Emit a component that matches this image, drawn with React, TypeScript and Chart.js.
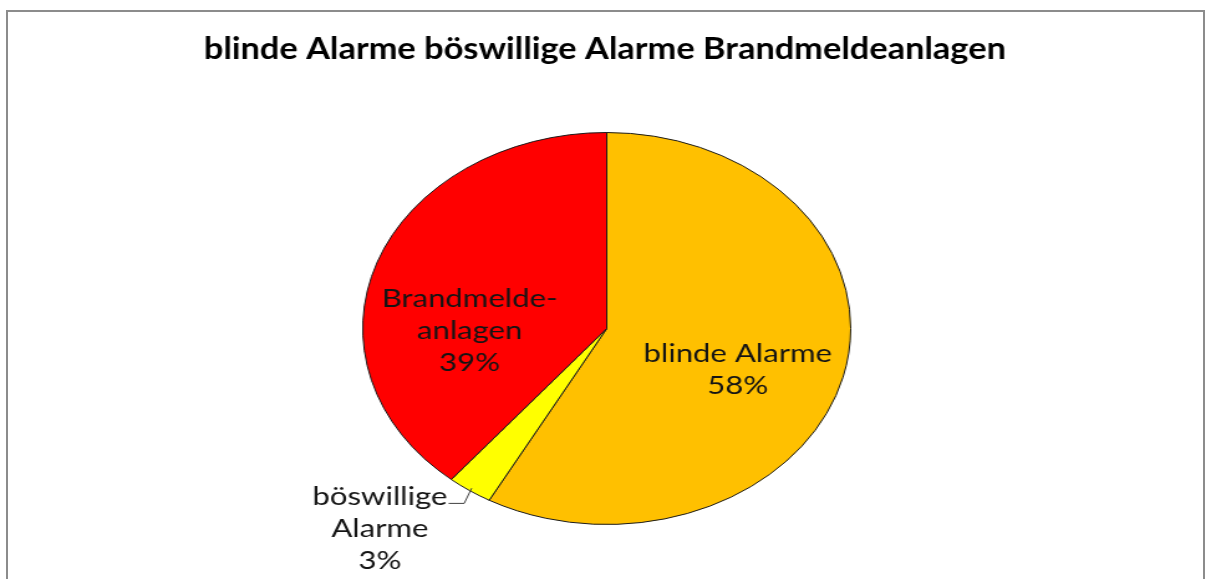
import React, { useEffect, useRef } from "react";
import { Chart, registerables } from "chart.js";

Chart.register(...registerables);

// ---- data ----
const chartTitle = "blinde Alarme böswillige Alarme Brandmeldeanlagen";
const categories = ["blinde Alarme", "böswillige Alarme", "Brandmeldeanlagen"];
const values = [58, 3, 39];
const labelLines = [["blinde Alarme"], ["böswillige", "Alarme"], ["Brandmelde-", "anlagen"]];
const sliceColors = ["#FFC000", "#FFFF00", "#FF0000"];

// ---- layout / style ----
const PAGE_W = 1206;
const PAGE_H = 579;
const STRETCH = 1.2446; // the reference pie is drawn as an ellipse (horizontally stretched)
const CANVAS_W = Math.round(PAGE_W / STRETCH);
const LABEL_FONT = "25px Lato, 'Open Sans', sans-serif";
const TITLE_FONT = "bold 31px Lato, 'Open Sans', sans-serif";
const TITLE_SCALE_X = 0.89;
const LINE_H = 32;
// label anchors relative to pie centre, in units of the radius
const labelPlacement = [
  { fx: 0.537, fy: 0.21, outside: false },
  { fx: -0.93, fy: 1.025, outside: true },
  { fx: -0.562, fy: 0.014, outside: false },
];

const titlePlugin = {
  id: "squeezedTitle",
  afterDraw(chart: any) {
    const ctx = chart.ctx;
    ctx.save();
    ctx.translate(chart.width / 2 + 1.5, 49);
    ctx.scale(TITLE_SCALE_X, 1);
    ctx.font = TITLE_FONT;
    ctx.fillStyle = "#000";
    ctx.textAlign = "center";
    ctx.textBaseline = "middle";
    ctx.fillText(chartTitle, 0, 0);
    ctx.restore();
  },
};

const labelPlugin = {
  id: "sliceLabels",
  afterDatasetsDraw(chart: any) {
    const ctx = chart.ctx;
    const meta = chart.getDatasetMeta(0);
    const data = chart.data.datasets[0].data as number[];
    const total = data.reduce((a, b) => a + b, 0);
    ctx.save();
    ctx.font = LABEL_FONT;
    ctx.textAlign = "center";
    ctx.textBaseline = "middle";
    meta.data.forEach((arc: any, i: number) => {
      const { x, y, outerRadius, startAngle, endAngle } = arc.getProps(
        ["x", "y", "outerRadius", "startAngle", "endAngle"],
        true
      );
      const p = labelPlacement[i];
      const lines = [...labelLines[i], Math.round((data[i] / total) * 100) + "%"];
      const cx = x + p.fx * outerRadius;
      const cy = y + p.fy * outerRadius;
      const top = cy - ((lines.length - 1) * LINE_H) / 2;
      ctx.fillStyle = "#141414";
      lines.forEach((t, k) => ctx.fillText(t, cx, top + k * LINE_H));
      if (p.outside) {
        const mid = (startAngle + endAngle) / 2;
        const ex = x + Math.cos(mid) * outerRadius * 0.985;
        const ey = y + Math.sin(mid) * outerRadius * 0.985;
        const w = ctx.measureText(lines[0]).width;
        const ly = top + 6;
        ctx.strokeStyle = "#404040";
        ctx.lineWidth = 1;
        ctx.beginPath();
        ctx.moveTo(cx + w / 2 + 1, ly);
        ctx.lineTo(ex - 6, ly);
        ctx.lineTo(ex, ey);
        ctx.stroke();
      }
    });
    ctx.restore();
  },
};

export default function App() {
  const ref = useRef<HTMLCanvasElement | null>(null);

  useEffect(() => {
    if (!ref.current) return;
    const chart = new Chart(ref.current, {
      type: "pie",
      data: {
        labels: categories,
        datasets: [
          {
            data: values,
            backgroundColor: sliceColors,
            borderColor: "#1a1a1a",
            borderWidth: 1,
          },
        ],
      },
      options: {
        animation: false,
        responsive: false,
        maintainAspectRatio: false,
        devicePixelRatio: 1,
        layout: { padding: { top: 132, bottom: 54, left: 6, right: 0 } },
        plugins: {
          legend: { display: false },
          title: { display: false },
          tooltip: { enabled: false },
        },
      },
      plugins: [labelPlugin, titlePlugin],
    });
    return () => chart.destroy();
  }, []);

  return (
    <div
      style={{
        position: "fixed",
        left: 0,
        top: 0,
        width: PAGE_W,
        height: PAGE_H,
        overflow: "hidden",
        background: "#fff",
      }}
    >
      <div
        style={{
          position: "absolute",
          left: 6,
          top: 10,
          width: 1199,
          height: 700,
          boxSizing: "border-box",
          border: "2px solid #8c8c8c",
        }}
      />
      <canvas
        ref={ref}
        width={CANVAS_W}
        height={PAGE_H}
        style={{ position: "absolute", left: 0, top: 0, width: PAGE_W + "px", height: PAGE_H + "px" }}
      />
    </div>
  );
}
